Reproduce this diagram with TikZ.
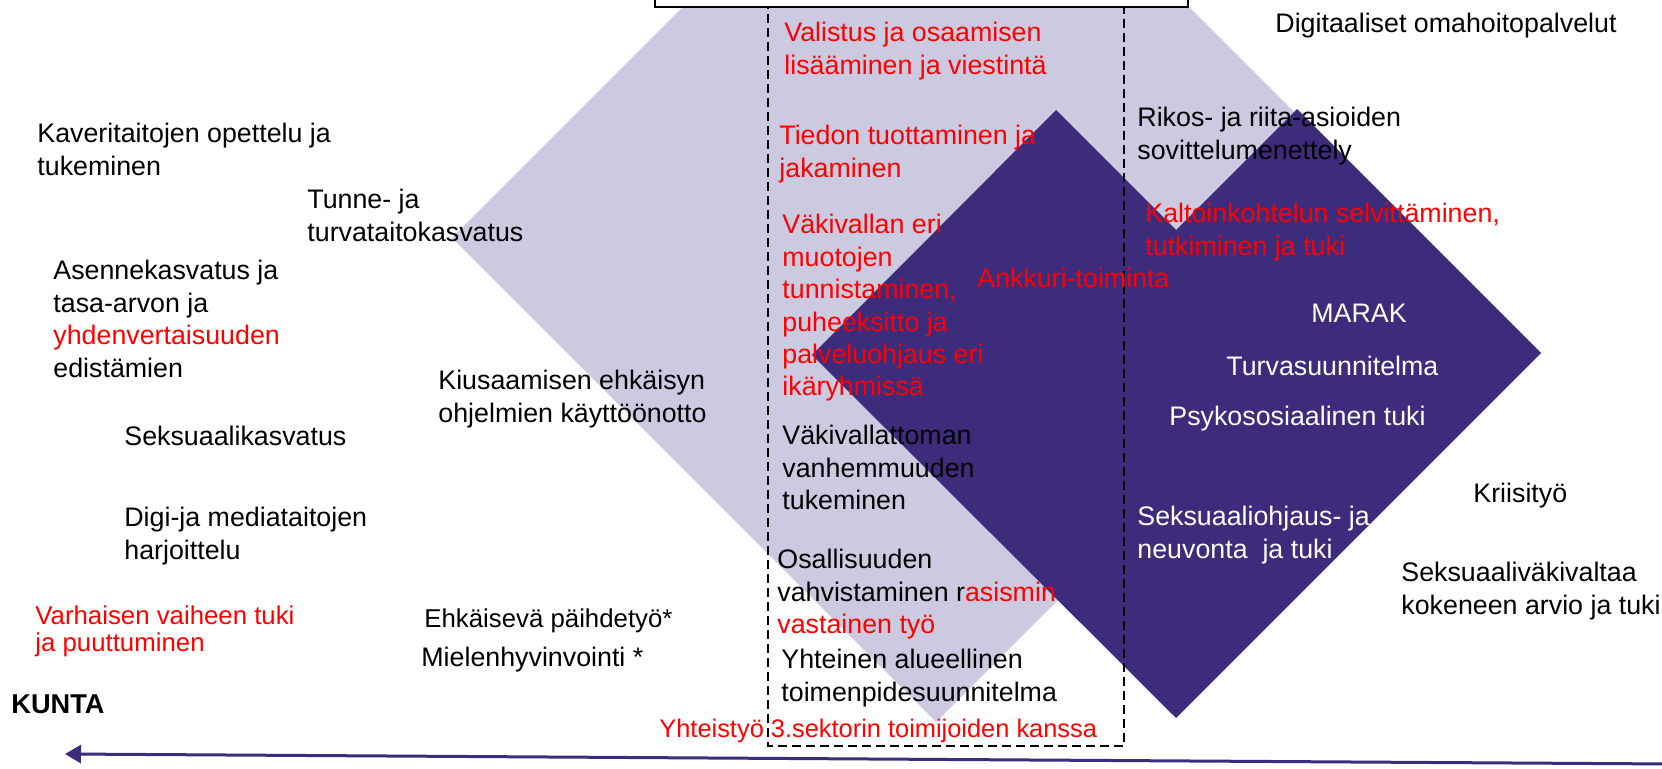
\documentclass[tikz,border=0pt]{standalone}
\usepackage{fontspec}
\setmainfont{Liberation Sans}
\usepackage{xcolor}
\usetikzlibrary{arrows.meta, positioning}

\definecolor{lilac}{RGB}{204,202,224}
\definecolor{deeppurple}{RGB}{61,43,124}

\begin{document}
\begin{tikzpicture}[x=0.5pt, y=-0.5pt]
\tikzstyle{entry} = [anchor=north west, inner sep=0pt, align=left,
    font=\fontsize{13.4}{16.2}\selectfont]
\tikzstyle{redentry} = [entry, text=red]
\tikzstyle{whiteentry} = [entry, text=white]
\tikzstyle{frame} = [draw, line width=1pt, dash pattern=on 4.5pt off 2.5pt]
\tikzstyle{axis} = [line width=1.5pt, draw=deeppurple,
    -{Triangle[length=8pt, width=9pt]}]

\useasboundingbox (0,0) rectangle (1662,769);

% Shapes
\fill[lilac] (452,238) -- (936,-246) -- (1420,238) -- (936,722) -- cycle;
\fill[deeppurple] (812,355) -- (1056,110) -- (1176,230) -- (1297,109)
    -- (1541,353) -- (1176,718) -- cycle;
\draw[frame] (768,0) rectangle (1124,746);
\draw[fill=white, line width=1.2pt] (655,-20) rectangle (1188,7);

% Left column
\node [entry] (kaveri) at (37,123) {Kaveritaitojen opettelu ja\\tukeminen};
\node [entry] (tunne) at (307,189) {Tunne- ja\\turvataitokasvatus};
\node [entry] (asenne) at (53,260) {Asennekasvatus ja\\tasa-arvon ja\\
    {\color{red}yhdenvertaisuuden}\\edistämien};
\node [entry] (kiusaus) at (438,370) {Kiusaamisen ehkäisyn\\ohjelmien käyttöönotto};
\node [entry] (seksikasv) at (124,426) {Seksuaalikasvatus};
\node [entry] (digitaidot) at (124,507) {Digi-ja mediataitojen\\harjoittelu};
\node [redentry, font=\fontsize{12.9}{13.8}\selectfont] (varhainen) at (35,605)
    {Varhaisen vaiheen tuki\\ja puuttuminen};
\node [entry, font=\fontsize{12.9}{15}\selectfont] (paihde) at (424,608) {Ehkäisevä päihdetyö*};
\node [entry] (mieli) at (421,647) {Mielenhyvinvointi *};
\node [entry, font=\fontsize{13.6}{16}\selectfont\bfseries] (kunta) at (11,694) {KUNTA};

% Middle column
\node [redentry] (valistus) at (784,22) {Valistus ja osaamisen\\lisääminen ja viestintä};
\node [redentry] (tiedon) at (779,125) {Tiedon tuottaminen ja\\jakaminen};
\node [redentry] (tunnistus) at (782,214) {Väkivallan eri\\muotojen\\tunnistaminen,\\
    puheeksitto ja\\palveluohjaus eri\\ikäryhmissä};
\node [entry] (vanhemmuus) at (782,425) {Väkivallattoman\\vanhemmuuden\\tukeminen};
\node [entry] (osallisuus) at (777,549) {Osallisuuden\\
    vahvistaminen r{\color{red}asismin}\\{\color{red}vastainen työ}};
\node [entry] (yhteinen) at (781,649) {Yhteinen alueellinen\\toimenpidesuunnitelma};
\node [redentry, font=\fontsize{12.7}{15}\selectfont] (yhteistyo) at (659,719)
    {Yhteistyö 3.sektorin toimijoiden kanssa};
\node [redentry] (ankkuri) at (977,268) {Ankkuri-toiminta};

% Right column
\node [entry] (omahoito) at (1275,13) {Digitaaliset omahoitopalvelut};
\node [entry] (sovittelu) at (1137,107) {Rikos- ja riita-asioiden\\sovittelumenettely};
\node [redentry] (kalto) at (1145,203) {Kaltoinkohtelun selvittäminen,\\tutkiminen ja tuki};
\node [whiteentry] (marak) at (1311,304) {MARAK};
\node [whiteentry] (turva) at (1226,356) {Turvasuunnitelma};
\node [whiteentry] (psyko) at (1169,406) {Psykososiaalinen tuki};
\node [whiteentry] (ohjaus) at (1137,506) {Seksuaaliohjaus- ja\\neuvonta\ \ ja tuki};
\node [entry] (kriisi) at (1473,483) {Kriisityö};
\node [entry] (arvio) at (1401,562) {Seksuaaliväkivaltaa\\kokeneen arvio ja tuki};

% Arrow
\coordinate (axisright) at (1672,764);
\coordinate (axisleft) at (65,754);
\draw [axis] (axisright) -- (axisleft);
\end{tikzpicture}
\end{document}
